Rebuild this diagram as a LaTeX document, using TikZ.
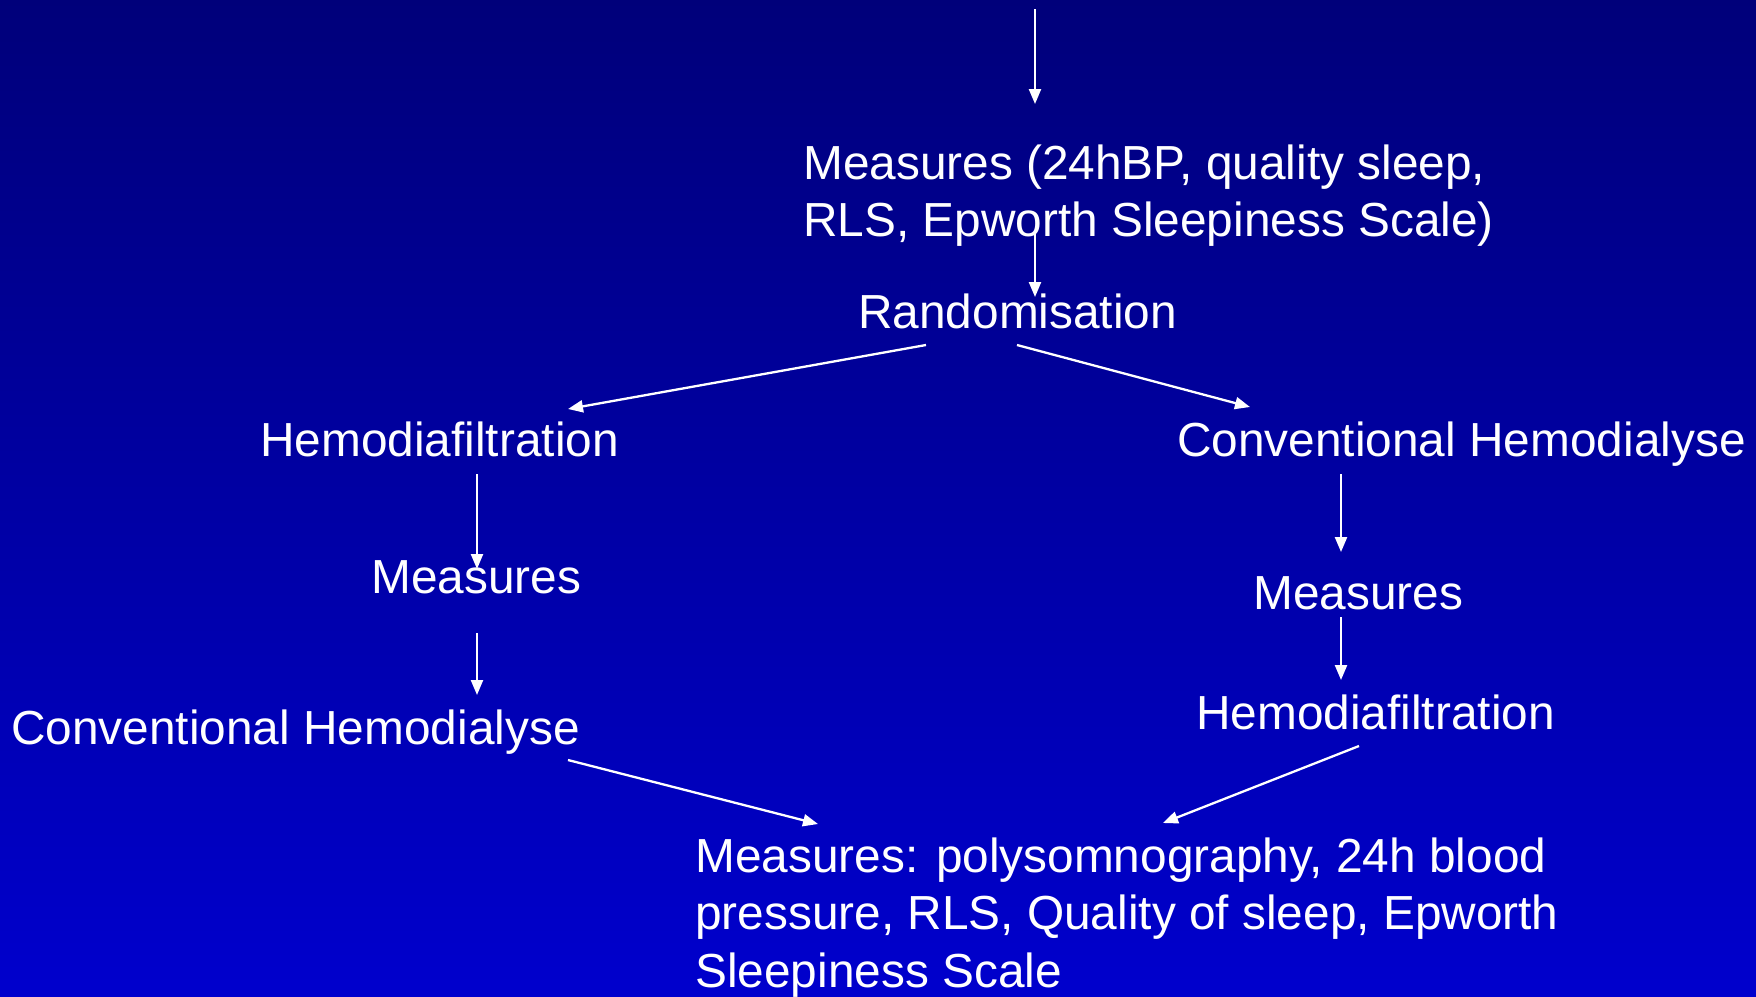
\documentclass[tikz,border=0pt]{standalone}
\usepackage{fontspec}
\setmainfont{Liberation Sans}
\usetikzlibrary{arrows.meta}
\definecolor{bgtop}{RGB}{0,0,122}
\definecolor{bgbot}{RGB}{0,0,205}
\tikzset{
  lbl/.style={anchor=base west, inner sep=0pt, text=white, align=left,
    font=\fontsize{47.8}{57.5}\selectfont},
  arr/.style={draw=white, line width=2.3pt, -{Triangle[length=15pt,width=12pt]}}
}
\begin{document}
\begin{tikzpicture}[x=1pt,y=-1pt]
\shade[top color=bgtop, bottom color=bgbot] (0,0) rectangle (1756,996);
\useasboundingbox (0,0) rectangle (1756,996);
% nodes (multi-line nodes: base = baseline of last line)
\node[lbl] (m0) at (803,236.5) {Measures (24hBP, quality sleep,\\RLS, Epworth Sleepiness Scale)};
\node[lbl] (rand) at (858,328) {Randomisation};
\node[lbl] (hdfL) at (260,456) {Hemodiafiltration};
\node[lbl] (chdR) at (1177,456) {Conventional Hemodialyse};
\node[lbl] (mL) at (371,593) {Measures};
\node[lbl] (mR) at (1253,609) {Measures};
\node[lbl] (chdL) at (11,744) {Conventional Hemodialyse};
\node[lbl] (hdfR) at (1196,729) {Hemodiafiltration};
\node[lbl] (mEnd) at (695,987) {Measures: polysomnography, 24h blood\\pressure, RLS, Quality of sleep, Epworth\\Sleepiness Scale};
% connector end points
\coordinate (top) at (1035,9);
\coordinate (a0) at (1035,104);
\coordinate (b1) at (1035,230);
\coordinate (b2) at (1035,297);
\coordinate (c1) at (926,345);
\coordinate (c2) at (568,409);
\coordinate (d1) at (1017,345);
\coordinate (d2) at (1250,407);
\coordinate (e1) at (477,474);
\coordinate (e2) at (477,569);
\coordinate (f1) at (477,633);
\coordinate (f2) at (477,695);
\coordinate (g1) at (1341,474);
\coordinate (g2) at (1341,552);
\coordinate (h1) at (1341,617);
\coordinate (h2) at (1341,680);
\coordinate (i1) at (568,760);
\coordinate (i2) at (818,824);
\coordinate (j1) at (1359,746);
\coordinate (j2) at (1163,823);
% connectors
\draw[arr] (top) -- (a0);
\draw[arr] (b1) -- (b2);
\draw[arr] (c1) -- (c2);
\draw[arr] (d1) -- (d2);
\draw[arr] (e1) -- (e2);
\draw[arr] (f1) -- (f2);
\draw[arr] (g1) -- (g2);
\draw[arr] (h1) -- (h2);
\draw[arr] (i1) -- (i2);
\draw[arr] (j1) -- (j2);
\end{tikzpicture}
\end{document}
